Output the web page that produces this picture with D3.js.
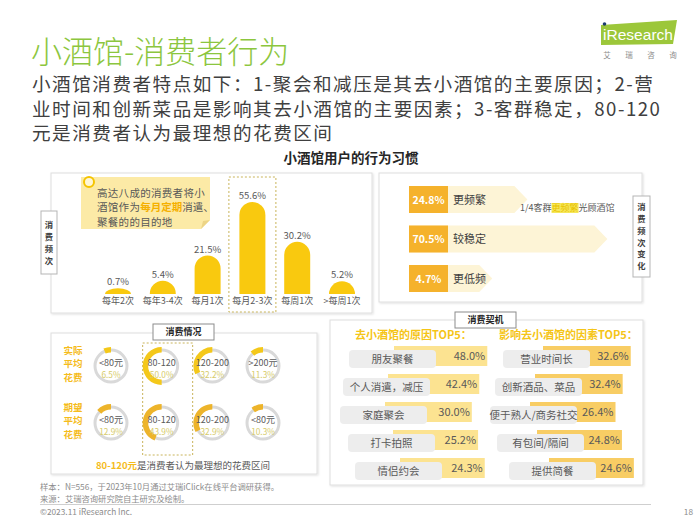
<!DOCTYPE html>
<html><head><meta charset="utf-8">
<script src="https://cdn.jsdelivr.net/npm/d3@7"></script>
<style>
html,body{margin:0;padding:0;background:#fff;}
svg{display:block;font-family:"Noto Sans CJK SC","Noto Sans",sans-serif;}
</style></head><body>
<svg id="c" width="700" height="525"></svg>
<script>
// ---------- data ----------
const titleText = "小酒馆-消费者行为";
const subtitleLines = [
  "小酒馆消费者特点如下：1-聚会和减压是其去小酒馆的主要原因；2-营",
  "业时间和创新菜品是影响其去小酒馆的主要因素；3-客群稳定，80-120",
  "元是消费者认为最理想的花费区间"
];
const chartTitle = "小酒馆用户的行为习惯";
const freqCats = ["每年2次", "每年3-4次", "每月1次", "每月2-3次", "每周1次", ">每周1次"];
const freqVals = [0.7, 5.4, 21.5, 55.6, 30.2, 5.2];
const freqHighlight = "每月2-3次";
const calloutLines = [
  [["高达八成的消费者将小", false]],
  [["酒馆作为", false], ["每月定期", true], ["消遣、", false]],
  [["聚餐的的目的地", false]]
];
const changeLabels = ["更频繁", "较稳定", "更低频"];
const changeVals = [24.8, 70.5, 4.7];
const changeNote = [["1/4客群", false], ["更频繁", true], ["光顾酒馆", false]];
const spendRowNames = [["实际", "平均", "花费"], ["期望", "平均", "花费"]];
const spendActualCats = ["<80元", "80-120", "120-200", ">200元"];
const spendActualVals = [6.5, 50.0, 32.2, 11.3];
const spendExpectCats = ["<80元", "80-120", "120-200", "<80元"];
const spendExpectVals = [12.9, 43.9, 32.9, 10.3];
const spendNote = [["80-120元", true], ["是消费者认为最理想的花费区间", false]];
const reasonTitle = "去小酒馆的原因TOP5：";
const reasonLabels = ["朋友聚餐", "个人消遣，减压", "家庭聚会", "打卡拍照", "情侣约会"];
const reasonVals = [48.0, 42.4, 30.0, 25.2, 24.3];
const factorTitle = "影响去小酒馆的因素TOP5：";
const factorLabels = ["营业时间长", "创新酒品、菜品", "便于熟人/商务社交", "有包间/隔间", "提供简餐"];
const factorVals = [32.6, 32.4, 26.4, 24.8, 24.6];
const footLines = ["样本：N=556，于2023年10月通过艾瑞iClick在线平台调研获得。", "来源：艾瑞咨询研究院自主研究及绘制。"];
const copyright = "©2023.11 iResearch Inc.";
const pageNo = "18";

// ---------- drawing ----------
const svg = d3.select("#c");
const defs = svg.append("defs");
const f = defs.append("filter").attr("id", "sh").attr("x", "-5%").attr("y", "-5%").attr("width", "110%").attr("height", "110%");
f.append("feDropShadow").attr("dx", 1).attr("dy", 1).attr("stdDeviation", 1.2).attr("flood-color", "#000").attr("flood-opacity", 0.12);

svg.append("rect").attr("width", 700).attr("height", 525).attr("fill", "#fff");

const GREEN = "#8cc63e", GOLD = "#f9c90f", ORANGE = "#f5b22c", TXT = "#595959", HL = "#f5bc1c";

// title & subtitle
svg.append("text").attr("x", 31).attr("y", 63).attr("font-size", 31).attr("font-weight", 300)
  .attr("fill", GREEN).text(titleText);
{
  const st = svg.append("text").attr("font-size", 18.6).attr("letter-spacing", 1.5).attr("fill", "#404040");
  subtitleLines.forEach((t, i) => st.append("tspan").attr("x", 32).attr("y", 91 + i * 24.5).text(t));
}

// logo
svg.append("path").attr("d", "M601,25 L677,20 L673,44 L601,45 Z").attr("fill", "#9cc73a");
svg.append("text").attr("x", 603).attr("y", 40).attr("font-size", 15)
  .attr("font-family", "'Liberation Sans Narrow','Liberation Sans',sans-serif")
  .attr("textLength", 70).attr("lengthAdjust", "spacingAndGlyphs").attr("fill", "#fff").text("iResearch");
svg.append("circle").attr("cx", 604.5).attr("cy", 24).attr("r", 1.8).attr("fill", "#1d3b6e");
const logoSub = ["艾", "瑞", "咨", "询"];
const lx = d3.scalePoint().domain(logoSub).range([607, 673]);
svg.selectAll(".lg").data(logoSub).join("text").attr("x", d => lx(d)).attr("y", 58)
  .attr("text-anchor", "middle").attr("font-size", 7.5).attr("fill", "#8c8c8c").text(d => d);

// chart title
svg.append("text").attr("x", 351).attr("y", 163).attr("text-anchor", "middle").attr("font-size", 13.5)
  .attr("font-weight", "bold").attr("fill", "#262626").text(chartTitle);

function panel(x, y, w, h) {
  svg.append("rect").attr("x", x).attr("y", y).attr("width", w).attr("height", h)
    .attr("fill", "#fff").attr("stroke", "#dedede").attr("filter", "url(#sh)");
}
function vLabel(x, y, w, h, chars, step) {
  svg.append("rect").attr("x", x).attr("y", y).attr("width", w).attr("height", h)
    .attr("fill", "#fff").attr("stroke", "#b5b5b5");
  const arr = chars.split("");
  const c0 = y + h / 2 - (arr.length - 1) * step / 2;
  const t = svg.append("text").attr("text-anchor", "middle").attr("font-size", 8.3)
    .attr("font-weight", "bold").attr("fill", "#404040");
  arr.forEach((c, i) => t.append("tspan").attr("x", x + w / 2).attr("y", c0 + i * step + 3.1).text(c));
}
function headBox(x, y, w, h, t) {
  svg.append("rect").attr("x", x).attr("y", y).attr("width", w).attr("height", h)
    .attr("fill", "#fff").attr("stroke", "#8c8c8c");
  svg.append("text").attr("x", x + w / 2).attr("y", y + h / 2 + 3.2).attr("text-anchor", "middle")
    .attr("font-size", 9).attr("font-weight", "bold").attr("fill", "#262626").text(t);
}

// ---- panel A: frequency bars ----
panel(51, 173, 321, 140);
const xb = d3.scalePoint().domain(freqCats).range([95.6, 364.4]).padding(0.5);
const yb = d3.scaleLinear().domain([0, 60]).range([289.3, 195]);
const base = 294, bw = 26;
svg.append("rect").attr("x", xb(freqHighlight) - 23.5).attr("y", 177).attr("width", 47).attr("height", 135)
  .attr("fill", "none").attr("stroke", "#c9b45a").attr("stroke-dasharray", "2,2");
function barPath(cx, top) {
  const x0 = cx - bw / 2, x1 = cx + bw / 2, r = bw / 2, h = base - top;
  if (h >= r) return `M${x0},${base}V${top + r}A${r},${r} 0 0 1 ${x1},${top + r}V${base}Z`;
  return `M${x0},${base}A${r},${h} 0 0 1 ${x1},${base}Z`;
}
const fd = freqCats.map((c, i) => ({ c, v: freqVals[i] }));
svg.selectAll(".bar").data(fd).join("path").attr("d", d => barPath(xb(d.c), yb(d.v))).attr("fill", GOLD);
svg.selectAll(".bv").data(fd).join("text").attr("x", d => xb(d.c)).attr("y", d => yb(d.v) - 3)
  .attr("text-anchor", "middle").attr("font-size", 9.5).attr("fill", TXT).text(d => d.v.toFixed(1) + "%");
svg.selectAll(".bc").data(fd).join("text").attr("x", d => xb(d.c)).attr("y", 304)
  .attr("text-anchor", "middle").attr("font-size", 9).attr("fill", TXT).text(d => d.c);
vLabel(41, 211, 16, 63, "消费频次", 12);
// callout
svg.append("path").attr("d", "M81,177H210V220L201,229H81Z").attr("fill", "#fceaa6");
svg.append("path").attr("d", "M201,229L203,221L210,220Z").attr("fill", "#ecd486");
svg.append("circle").attr("cx", 89).attr("cy", 182).attr("r", 5).attr("fill", "#fff6d6").attr("stroke", "#f5c400").attr("stroke-width", 2);
{
  const t = svg.append("text").attr("font-size", 10.5).attr("fill", TXT);
  calloutLines.forEach((segs, i) => {
    segs.forEach(([s, hl], k) => {
      const ts = t.append("tspan").attr("fill", hl ? "#f5b000" : TXT).attr("font-weight", hl ? "bold" : null).text(s);
      if (k === 0) ts.attr("x", 97).attr("y", 196.5 + i * 14.5).attr("letter-spacing", 0.3);
    });
  });
}

// ---- panel B: change arrows ----
panel(379, 173, 263, 129);
const yr = d3.scalePoint().domain(changeLabels).range([199.5, 278.5]);
const al = d3.scaleLinear().domain([0, 80]).range([75, 215]);
const ax0 = 409, ah = 27, head = 13;
const cd = changeLabels.map((c, i) => ({ c, v: changeVals[i] }));
svg.selectAll(".arw").data(cd).join("path").attr("d", d => {
  const y = yr(d.c), L = al(d.v);
  return `M${ax0},${y - ah / 2}H${ax0 + L - head}L${ax0 + L},${y}L${ax0 + L - head},${y + ah / 2}H${ax0}Z`;
}).attr("fill", "#fdf4d6");
svg.selectAll(".ob").data(cd).join("rect").attr("x", ax0).attr("y", d => yr(d.c) - ah / 2)
  .attr("width", 39).attr("height", ah).attr("fill", ORANGE);
svg.selectAll(".ov").data(cd).join("text").attr("x", ax0 + 19.5).attr("y", d => yr(d.c) + 4)
  .attr("text-anchor", "middle").attr("font-size", 10.5).attr("font-weight", "bold").attr("fill", "#fff")
  .text(d => d.v.toFixed(1) + "%");
svg.selectAll(".ol").data(cd).join("text").attr("x", 453).attr("y", d => yr(d.c) + 4)
  .attr("font-size", 11).attr("fill", "#404040").text(d => d.c);
{
  const g = svg.append("g");
  const t = g.append("text").attr("x", 520).attr("y", 211).attr("font-size", 9).attr("fill", TXT);
  changeNote.forEach(([s, hl]) => t.append("tspan").attr("fill", hl ? "#e9c200" : TXT).text(s));
  const node = t.node();
  let idx = 0;
  changeNote.forEach(([s, hl]) => {
    if (hl) {
      const st = node.getSubStringLength(0, idx), w = node.getSubStringLength(idx, s.length);
      g.insert("rect", "text").attr("x", 520 + st).attr("y", 203).attr("width", w).attr("height", 10).attr("fill", "#f6e85a");
    }
    idx += s.length;
  });
}
vLabel(633, 196, 17, 81, "消费频次变化", 11.8);

// ---- panel C: spending rings ----
panel(51, 333, 266, 141);
headBox(153, 324, 61, 16, "消费情况");
const xc = d3.scalePoint().domain(d3.range(4)).range([111, 263]);
const rowsY = [366, 423];
svg.append("rect").attr("x", xc(1) - 19).attr("y", 343).attr("width", 50).attr("height", 112)
  .attr("fill", "none").attr("stroke", "#c9b45a").attr("stroke-dasharray", "2,2");
const track = d3.arc().innerRadius(14.5).outerRadius(17.5).startAngle(0).endAngle(2 * Math.PI);
const arcY = d3.arc().innerRadius(13.5).outerRadius(19).startAngle(0);
const ringRows = [
  { cats: spendActualCats, vals: spendActualVals, col: "#f4c81a" },
  { cats: spendExpectCats, vals: spendExpectVals, col: "#edb42a" }
];
ringRows.forEach((row, ri) => {
  const cy = rowsY[ri];
  const rt = svg.append("text").attr("text-anchor", "middle").attr("font-size", 9.5)
    .attr("font-weight", "bold").attr("fill", HL);
  spendRowNames[ri].forEach((s, k) => rt.append("tspan").attr("x", 73).attr("y", cy - 2 + (k - 1) * 13.4 + 3.4).text(s));
  row.vals.forEach((v, i) => {
    const g = svg.append("g").attr("transform", `translate(${xc(i)},${cy})`);
    g.append("path").attr("d", track()).attr("fill", "#d9d9d9");
    g.append("path").attr("d", arcY({ endAngle: -v / 100 * 2 * Math.PI })).attr("fill", row.col);
    const t = g.append("text").attr("text-anchor", "middle");
    t.append("tspan").attr("x", 0).attr("y", 0).attr("font-size", 9).attr("fill", TXT).text(row.cats[i]);
    t.append("tspan").attr("x", 0).attr("y", 11.5).attr("font-size", 8.3).attr("fill", "#d6cb6a").text(v.toFixed(1) + "%");
  });
});
{
  const t = svg.append("text").attr("x", 183).attr("y", 469).attr("text-anchor", "middle").attr("font-size", 9.5);
  spendNote.forEach(([s, hl]) => t.append("tspan").attr("fill", hl ? HL : TXT).attr("font-weight", hl ? "bold" : null).text(s));
}

// ---- panel D: TOP5 lists ----
panel(330, 320, 313, 165);
headBox(455, 312, 61, 16, "消费契机");
svg.append("text").attr("x", 355).attr("y", 339).attr("font-size", 11).attr("font-weight", "bold").attr("fill", "#f5c518").text(reasonTitle);
svg.append("text").attr("x", 499).attr("y", 339).attr("font-size", 11).attr("font-weight", "bold").attr("fill", "#f5c518").text(factorTitle);
const yl = d3.scalePoint().domain(d3.range(5)).range([359, 471]);
const yw = d3.scaleLinear().domain([0, 50]).range([76, 94]);
const lists = [
  { labels: reasonLabels, vals: reasonVals, gx: [349, 343, 340, 348, 355], off: 45, col: "#fce391" },
  { labels: factorLabels, vals: factorVals, gx: [503, 495, 490, 497, 509], off: 40, col: "#f8cd64" }
];
lists.forEach(L => {
  L.vals.forEach((v, i) => {
    const cy = yl(i), gx = L.gx[i], yx = gx + L.off, w = yw(v);
    svg.append("rect").attr("x", yx).attr("y", cy - 13).attr("width", w).attr("height", 20).attr("fill", L.col);
    svg.append("rect").attr("x", gx).attr("y", cy - 9).attr("width", 87).attr("height", 18).attr("rx", 4).attr("fill", "#ededed");
    svg.append("text").attr("x", gx + 43.5).attr("y", cy + 4).attr("text-anchor", "middle").attr("font-size", 10.5)
      .attr("fill", TXT).text(L.labels[i]);
    svg.append("text").attr("x", yx + w - 2).attr("y", cy + 1).attr("text-anchor", "end").attr("font-size", 11)
      .attr("fill", TXT).text(v.toFixed(1) + "%");
  });
});

// ---- footer ----
{
  const ft = svg.append("text").attr("font-size", 8.3).attr("fill", "#8c8c8c");
  footLines.forEach((t, i) => ft.append("tspan").attr("x", 40).attr("y", 490 + i * 11.5).text(t));
}
svg.append("line").attr("x1", 40).attr("x2", 651).attr("y1", 504.5).attr("y2", 504.5).attr("stroke", "#cfcfcf");
svg.append("text").attr("x", 40).attr("y", 515).attr("font-size", 8.3).attr("fill", "#8c8c8c").text(copyright);
svg.append("text").attr("x", 693).attr("y", 515).attr("text-anchor", "end").attr("font-size", 8.3).attr("fill", "#8c8c8c").text(pageNo);
</script>
</body></html>
